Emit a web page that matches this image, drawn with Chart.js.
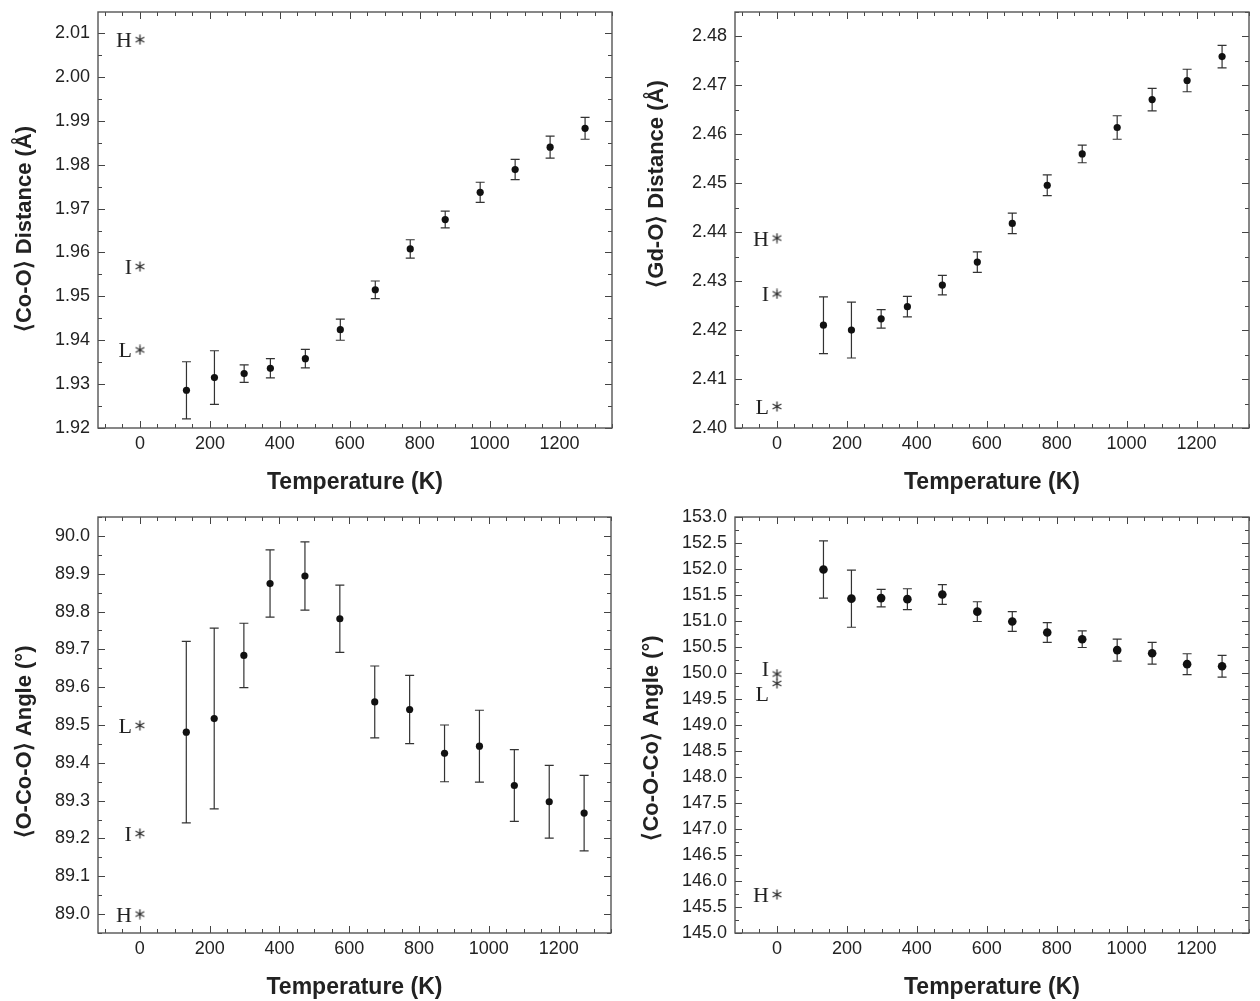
<!DOCTYPE html>
<html>
<head>
<meta charset="utf-8">
<script src="https://cdn.jsdelivr.net/npm/chart.js@4.4.0/dist/chart.umd.min.js"></script>
<style>
  body { margin: 0; background: #fff; }
  canvas { position: absolute; }
</style>
</head>
<body>
<canvas id="coO" width="630" height="500" style="left:0;top:0"></canvas>
<canvas id="gdO" width="630" height="500" style="left:630px;top:0"></canvas>
<canvas id="oCoO" width="630" height="501" style="left:0;top:500px"></canvas>
<canvas id="coOCo" width="630" height="501" style="left:630px;top:500px"></canvas>
<script>
// measured temperatures (K)
const temps = [133, 213, 298, 373, 473, 573, 673, 773, 873, 973, 1073, 1173, 1273];

// <Co-O> distance (A) and error
const coO = [1.9286, 1.9315, 1.9324, 1.9336, 1.9358, 1.9424, 1.9515, 1.9608, 1.9675, 1.9737, 1.9789, 1.9840, 1.9883];
const coOErr = [0.0065, 0.0061, 0.0020, 0.0022, 0.0021, 0.0024, 0.0020, 0.0021, 0.0019, 0.0023, 0.0023, 0.0025, 0.0025];

// <Gd-O> distance (A) and error
const gdO = [2.4210, 2.4200, 2.4223, 2.4248, 2.4292, 2.4339, 2.4418, 2.4496, 2.4560, 2.4614, 2.4671, 2.4710, 2.4759];
const gdOErr = [0.0058, 0.0057, 0.0019, 0.0021, 0.0020, 0.0021, 0.0021, 0.0021, 0.0018, 0.0024, 0.0023, 0.0023, 0.0023];

// <O-Co-O> angle (deg) and error
const oCoO = [89.481, 89.517, 89.684, 89.874, 89.894, 89.781, 89.561, 89.541, 89.425, 89.444, 89.340, 89.297, 89.267];
const oCoOErr = [0.240, 0.239, 0.085, 0.089, 0.090, 0.089, 0.095, 0.090, 0.075, 0.095, 0.095, 0.096, 0.100];

// <Co-O-Co> angle (deg) and error
const coOCo = [151.99, 151.43, 151.44, 151.42, 151.51, 151.18, 150.99, 150.78, 150.65, 150.44, 150.38, 150.17, 150.13];
const coOCoErr = [0.55, 0.55, 0.17, 0.20, 0.19, 0.19, 0.19, 0.19, 0.16, 0.21, 0.21, 0.20, 0.21];

// H / I / L spin-state reference values, plotted at 0 K
const refNames = ['H', 'I', 'L'];
const coORef = [2.0085, 1.9568, 1.9378];
const gdORef = [2.4388, 2.4274, 2.4044];
const oCoORef = [89.0, 89.213, 89.499];
const coOCoRef = [145.74, 149.98, 149.80];

// tick labels
const xTicks = [0, 200, 400, 600, 800, 1000, 1200];
const coOTicks = [1.92, 1.93, 1.94, 1.95, 1.96, 1.97, 1.98, 1.99, 2.00, 2.01];
const gdOTicks = [2.40, 2.41, 2.42, 2.43, 2.44, 2.45, 2.46, 2.47, 2.48];
const oCoOTicks = [89.0, 89.1, 89.2, 89.3, 89.4, 89.5, 89.6, 89.7, 89.8, 89.9, 90.0];
const coOCoTicks = [145.0, 145.5, 146.0, 146.5, 147.0, 147.5, 148.0, 148.5, 149.0, 149.5,
  150.0, 150.5, 151.0, 151.5, 152.0, 152.5, 153.0];

const INK = '#222';
const SANS = '"Liberation Sans", Arial, sans-serif';

// six-ray asterisk used as point style for the reference values
function asterisk(size) {
  const c = document.createElement('canvas');
  c.width = c.height = size;
  const g = c.getContext('2d');
  g.strokeStyle = '#333';
  g.lineWidth = 1.3;
  const m = size / 2, r = size / 2 - 0.5;
  g.beginPath();
  for (let k = 0; k < 3; k++) {
    const a = Math.PI / 2 + k * Math.PI / 3;
    g.moveTo(m + r * Math.cos(a), m + r * Math.sin(a));
    g.lineTo(m - r * Math.cos(a), m - r * Math.sin(a));
  }
  g.stroke();
  return c;
}
const star = asterisk(11);

// vertical error bars with caps, drawn under the dots
const errorBars = {
  id: 'errorBars',
  beforeDatasetsDraw(chart) {
    const { ctx, scales: { x, y } } = chart;
    chart.data.datasets.forEach(ds => {
      if (!ds.errors) return;
      ctx.save();
      ctx.strokeStyle = '#333';
      ctx.lineWidth = 1.2;
      ctx.beginPath();
      ds.data.forEach((p, j) => {
        const px = x.getPixelForValue(p.x);
        const top = y.getPixelForValue(p.y + ds.errors[j]);
        const bot = y.getPixelForValue(p.y - ds.errors[j]);
        ctx.moveTo(px, top); ctx.lineTo(px, bot);
        ctx.moveTo(px - 4.5, top); ctx.lineTo(px + 4.5, top);
        ctx.moveTo(px - 4.5, bot); ctx.lineTo(px + 4.5, bot);
      });
      ctx.stroke();
      ctx.restore();
    });
  }
};

// box frame with inward ticks on all four sides
const frame = {
  id: 'frame',
  afterDatasetsDraw(chart, args, opts) {
    const { ctx, chartArea: a, scales: { x, y } } = chart;
    const steps = (scale, step) => {
      const out = [];
      const first = Math.ceil(scale.min / step - 1e-6);
      for (let k = first; k * step <= scale.max + 1e-9; k++) out.push(+(k * step).toFixed(6));
      return out;
    };
    const majorX = x.ticks.map(t => t.value);
    const majorY = y.ticks.map(t => t.value);
    const isMajor = (list, v) => list.some(m => Math.abs(m - v) < 1e-6);
    ctx.save();
    ctx.strokeStyle = '#444';
    ctx.lineWidth = 1;
    ctx.beginPath();
    steps(x, opts.xMinor).forEach(v => {
      const px = Math.round(x.getPixelForValue(v)) + 0.5;
      const len = isMajor(majorX, v) ? 7 : 4;
      ctx.moveTo(px, a.bottom); ctx.lineTo(px, a.bottom - len);
      ctx.moveTo(px, a.top); ctx.lineTo(px, a.top + len);
    });
    steps(y, opts.yMinor).forEach(v => {
      const py = Math.round(y.getPixelForValue(v)) + 0.5;
      const len = isMajor(majorY, v) ? 7 : 4;
      ctx.moveTo(a.left, py); ctx.lineTo(a.left + len, py);
      ctx.moveTo(a.right, py); ctx.lineTo(a.right - len, py);
    });
    ctx.stroke();
    ctx.lineWidth = 1.4;
    ctx.strokeStyle = '#555';
    ctx.strokeRect(a.left, a.top, a.right - a.left, a.bottom - a.top);
    ctx.restore();
  }
};

// H / I / L letters beside the reference asterisks
const refLabels = {
  id: 'refLabels',
  afterDatasetsDraw(chart, args, opts) {
    const { ctx } = chart;
    chart.data.datasets.forEach((ds, i) => {
      if (!ds.names) return;
      const meta = chart.getDatasetMeta(i);
      ctx.save();
      ctx.font = '22px "Liberation Serif", "Times New Roman", serif';
      ctx.fillStyle = INK;
      ctx.textAlign = 'right';
      ctx.textBaseline = 'alphabetic';
      meta.data.forEach((pt, j) => {
        const dy = (opts.dy && opts.dy[j]) || 0;
        ctx.fillText(ds.names[j], pt.x - 8, pt.y + 7.5 + dy);
      });
      ctx.restore();
    });
  }
};

// rotated y-axis title, placed at its own centre point
const yTitle = {
  id: 'yTitle',
  afterDraw(chart, args, opts) {
    const { ctx } = chart;
    ctx.save();
    ctx.translate(opts.cx, opts.cy);
    ctx.rotate(-Math.PI / 2);
    ctx.font = 'bold 22px ' + SANS;
    ctx.fillStyle = INK;
    ctx.textAlign = 'center';
    ctx.textBaseline = 'middle';
    ctx.fillText(opts.text, 0, 0);
    ctx.restore();
  }
};

function makePanel(id, cfg) {
  return new Chart(document.getElementById(id), {
    type: 'scatter',
    data: {
      datasets: [
        {
          data: temps.map((t, i) => ({ x: t, y: cfg.values[i] })),
          errors: cfg.errors,
          pointRadius: cfg.dot,
          backgroundColor: '#111',
          borderWidth: 0
        },
        {
          data: cfg.refs.map(v => ({ x: 0, y: v })),
          names: refNames,
          pointStyle: star,
          pointRadius: 6
        }
      ]
    },
    options: {
      responsive: false,
      animation: false,
      events: [],
      layout: { padding: { top: cfg.top, right: cfg.right, left: 0, bottom: 0 } },
      plugins: {
        legend: { display: false },
        tooltip: { enabled: false },
        frame: { xMinor: 50, yMinor: cfg.yMinor },
        refLabels: { dy: cfg.labelDy },
        yTitle: { text: cfg.title, cx: cfg.titleAt[0], cy: cfg.titleAt[1] }
      },
      scales: {
        x: {
          type: 'linear',
          min: -120,
          max: 1350,
          afterBuildTicks: s => { s.ticks = xTicks.map(v => ({ value: v })); },
          afterFit: s => { s.height = cfg.xHeight; s.paddingLeft = 0; s.paddingRight = 0; },
          grid: { display: false, drawTicks: false },
          border: { display: false },
          ticks: {
            color: INK, padding: 5, maxRotation: 0,
            font: { family: SANS, size: 18 },
            callback: v => String(v)
          },
          title: {
            display: true,
            text: 'Temperature (K)',
            color: INK,
            font: { family: SANS, size: 23, weight: 'bold' },
            padding: { top: 0, bottom: cfg.xTitlePad }
          }
        },
        y: {
          type: 'linear',
          min: cfg.min,
          max: cfg.max,
          afterBuildTicks: s => { s.ticks = cfg.ticks.map(v => ({ value: v })); },
          afterFit: s => { s.width = cfg.yWidth; s.paddingTop = 0; s.paddingBottom = 0; },
          grid: { display: false, drawTicks: false },
          border: { display: false },
          ticks: {
            color: INK, padding: 8, autoSkip: false,
            font: { family: SANS, size: 18 },
            callback: v => v.toFixed(cfg.decimals)
          }
        }
      }
    },
    plugins: [errorBars, frame, refLabels, yTitle]
  });
}

makePanel('coO', {
  values: coO, errors: coOErr, refs: coORef, ticks: coOTicks,
  min: 1.92, max: 2.0148, yMinor: 0.005, decimals: 2, dot: 3.6,
  title: '\u27E8Co-O\u27E9 Distance (\u00C5)', titleAt: [25, 229],
  top: 12, right: 18, xHeight: 72, yWidth: 98, xTitlePad: 4
});

makePanel('gdO', {
  values: gdO, errors: gdOErr, refs: gdORef, ticks: gdOTicks,
  min: 2.40, max: 2.485, yMinor: 0.005, decimals: 2, dot: 3.6,
  title: '\u27E8Gd-O\u27E9 Distance (\u00C5)', titleAt: [27, 184],
  top: 12, right: 11, xHeight: 72, yWidth: 105, xTitlePad: 4
});

makePanel('oCoO', {
  values: oCoO, errors: oCoOErr, refs: oCoORef, ticks: oCoOTicks,
  min: 88.95, max: 90.05, yMinor: 0.05, decimals: 1, dot: 3.6,
  title: '\u27E8O-Co-O\u27E9 Angle (\u00B0)', titleAt: [25, 242],
  top: 17, right: 19, xHeight: 68, yWidth: 98, xTitlePad: 0
});

makePanel('coOCo', {
  values: coOCo, errors: coOCoErr, refs: coOCoRef, ticks: coOCoTicks,
  min: 145, max: 153, yMinor: 0.25, decimals: 1, dot: 4.3,
  title: '\u27E8Co-O-Co\u27E9 Angle (\u00B0)', titleAt: [22, 238],
  top: 17, right: 11, xHeight: 68, yWidth: 105, xTitlePad: 0,
  labelDy: [0, -6, 10]
});
</script>
</body>
</html>
